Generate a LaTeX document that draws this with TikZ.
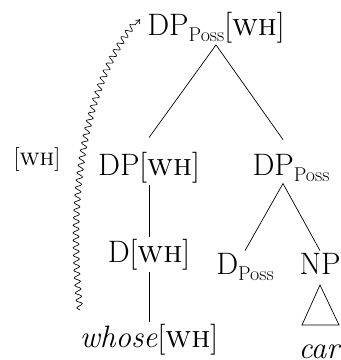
\documentclass[tikz,border=0pt]{standalone}
\usetikzlibrary{decorations.pathmorphing,arrows.meta}
\newcommand{\wh}{[\textsc{wh}]}
\newcommand{\possub}{\raisebox{-0.2em}{\fontsize{20}{20}\selectfont Poss}}
\begin{document}
\begin{tikzpicture}[x=1pt,y=-1pt]
\tikzset{cat/.style={font=\fontsize{31}{36}\selectfont, anchor=base, inner sep=2pt},
  branch/.style={line width=0.7pt},
  wavy/.style={decorate, decoration={snake, amplitude=3pt, segment length=7.5pt, post length=5pt},
    -{To[length=4pt,width=6pt]}, line width=0.65pt}}
\useasboundingbox (0,0) rectangle (341,360);
\node[cat] (root) at (216,35) {DP\possub\wh};
\node[cat] (dpwh) at (149,175) {DP\wh};
\node[cat] (dpposs) at (291,175) {DP\possub};
\node[cat] (dwh) at (149,262) {D\wh};
\node[cat] (dposs) at (245,274) {D\possub};
\node[cat] (np) at (320,274) {NP};
\node[cat] (whose) at (149,347) {\textit{whose}\wh};
\node[cat] (car) at (320,358) {\textit{car}};
\node[font=\fontsize{24}{27}\selectfont, anchor=base] (whlabel) at (37,165) {\wh};
\coordinate (wstart) at (80,310);
% branches
\draw[branch] (root.south) -- ([yshift=12pt]dpwh.north);
\draw[branch] (root.south) -- ([xshift=-8pt,yshift=12pt]dpposs.north);
\draw[branch] (dpwh.south) -- (dwh.north);
\draw[branch] (dwh.south) -- (whose.north);
\draw[branch] ([xshift=-8pt]dpposs.south) -- (dposs.north);
\draw[branch] ([xshift=-8pt]dpposs.south) -- (np.north);
\draw[branch] (320,285) -- (302,325) -- (339,325) -- cycle;
% movement
\draw[wavy] (wstart) .. controls (66,180) and (92,70) .. ([xshift=-5pt,yshift=8pt]root.west);
\end{tikzpicture}
\end{document}
